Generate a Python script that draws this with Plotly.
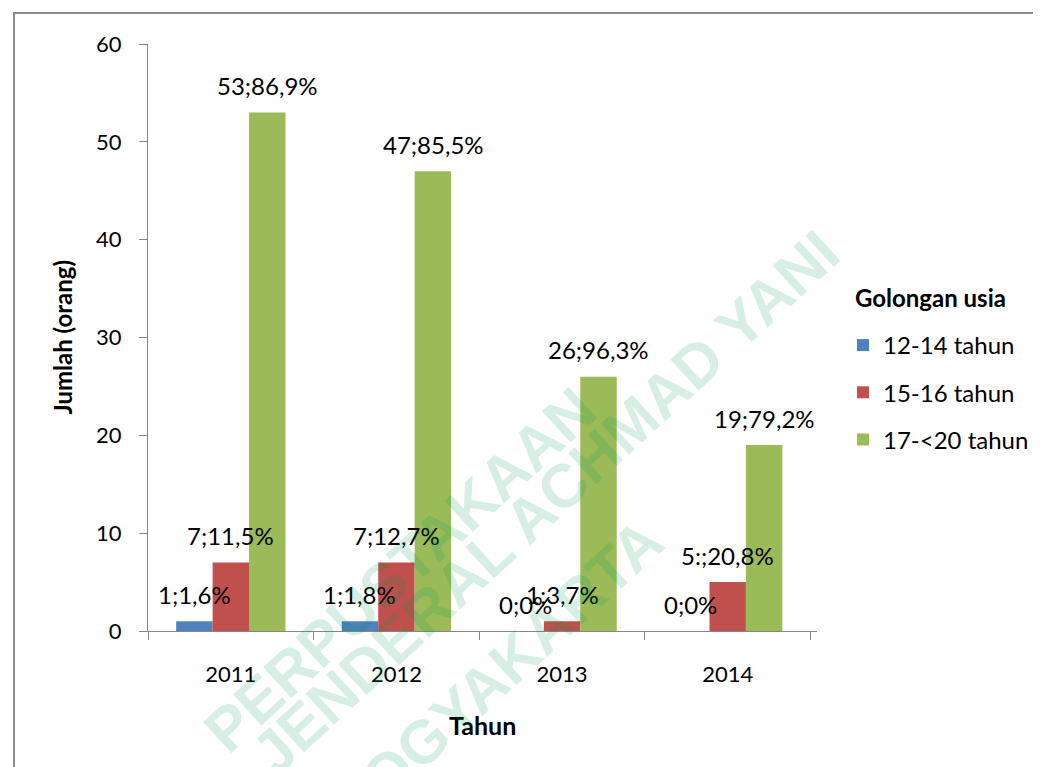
import plotly.graph_objects as go

years = ["2011", "2012", "2013", "2014"]
series_names = ["12-14 tahun", "15-16 tahun", "17-<20 tahun"]
val_12_14 = [1, 1, 0, 0]
val_15_16 = [7, 7, 1, 5]
val_17_20 = [53, 47, 26, 19]
lbl_12_14 = ["1;1,6%", "1;1,8%", "0;0%", "0;0%"]
lbl_15_16 = ["7;11,5%", "7;12,7%", "1;3,7%", "5:;20,8%"]
lbl_17_20 = ["53;86,9%", "47;85,5%", "26;96,3%", "19;79,2%"]
colors = ["#4F81BD", "#C0504D", "#9BBB59"]

FONT = "Lato"
OFF = 8  # page offset of the figure (body margin)
L, T, W, H = 148, 44, 669, 587  # plot area in page pixels
BARGAP = 0.34
cat_px = W / len(years)
bar_px = cat_px * (1 - BARGAP) / 3

fig = go.Figure()
all_vals = [val_12_14, val_15_16, val_17_20]
all_lbls = [lbl_12_14, lbl_15_16, lbl_17_20]
for i, (name, vals) in enumerate(zip(series_names, all_vals)):
    fig.add_trace(go.Bar(
        x=years, y=vals, name=name, marker=dict(color=colors[i], line=dict(width=0)),
        legendgroup=f"g{i}",
    ))

# data labels drawn above all bars
for i, (vals, lbls) in enumerate(zip(all_vals, all_lbls)):
    for j, (v, t) in enumerate(zip(vals, lbls)):
        fig.add_annotation(x=j, y=v, text=t, showarrow=False, xref="x", yref="y",
                           xshift=(i - 1) * bar_px, yshift=27, yanchor="middle",
                           font=dict(size=24, family=FONT, color="black"))

fig.update_layout(
    width=1041, height=767,
    margin=dict(l=L - OFF, r=1041 - (L + W - OFF), t=T - OFF, b=767 - (T + H - OFF),
                autoexpand=False),
    paper_bgcolor="white", plot_bgcolor="white",
    barmode="group", bargap=BARGAP, bargroupgap=0,
    font=dict(family=FONT, size=22, color="black"),
    legend=dict(x=(843 - L) / W, y=(T + H - 323) / H, xanchor="left", yanchor="top",
                font=dict(size=24, family=FONT), tracegroupgap=13,
                bgcolor="rgba(0,0,0,0)"),
)
# legend title and axis titles
fig.add_annotation(text="<b>Golongan usia</b>", xref="paper", yref="paper",
                   x=(853 - L) / W, y=(T + H - 297) / H, xanchor="left", yanchor="middle",
                   showarrow=False, font=dict(size=24, family=FONT, color="black"))
fig.add_annotation(text="<b>Jumlah (orang)</b>", xref="paper", yref="paper",
                   x=(62 - L) / W, y=0.5, textangle=-90, xanchor="center", yanchor="middle",
                   showarrow=False, font=dict(size=24, family=FONT, color="black"))
fig.add_annotation(text="<b>Tahun</b>", xref="paper", yref="paper",
                   x=0.5, y=(T + H - 725) / H, xanchor="center", yanchor="middle",
                   showarrow=False, font=dict(size=25, family=FONT, color="black"))

fig.update_yaxes(range=[0, 60], dtick=10, showgrid=False, showline=True, linecolor="#868686",
                 linewidth=1, ticks="outside", ticklen=8, tickcolor="#868686",
                 ticklabelstandoff=13, tickfont=dict(size=22), zeroline=False)
fig.update_xaxes(type="category", categoryorder="array", categoryarray=years,
                 showgrid=False, showline=True, linecolor="#868686", linewidth=1,
                 ticks="outside", ticklen=8, tickcolor="#868686", tickson="boundaries",
                 ticklabelstandoff=24, tickfont=dict(size=22))

# outer frame
fig.add_shape(type="rect", xref="paper", yref="paper", x0=(14 - L) / W, x1=1.5, y0=-0.5,
              y1=(T + H - 13) / H,
              line=dict(color="#8a8a8a", width=2), fillcolor="rgba(0,0,0,0)", layer="below")

# watermark
wm_color = "rgba(0,150,80,0.16)"
wm = [("PERPUSTAKAAN", 400, 570), ("JENDERAL ACHMAD YANI", 545, 503), ("YOGYAKARTA", 497, 674)]
for txt, px, py in wm:
    fig.add_annotation(text=f"<b>{txt}</b>", xref="paper", yref="paper",
                       x=(px - L) / W, y=(T + H - py) / H, showarrow=False,
                       textangle=-42.5, font=dict(size=61, family="Liberation Sans", color=wm_color),
                       xanchor="center", yanchor="middle")

fig.write_html("out.html")
